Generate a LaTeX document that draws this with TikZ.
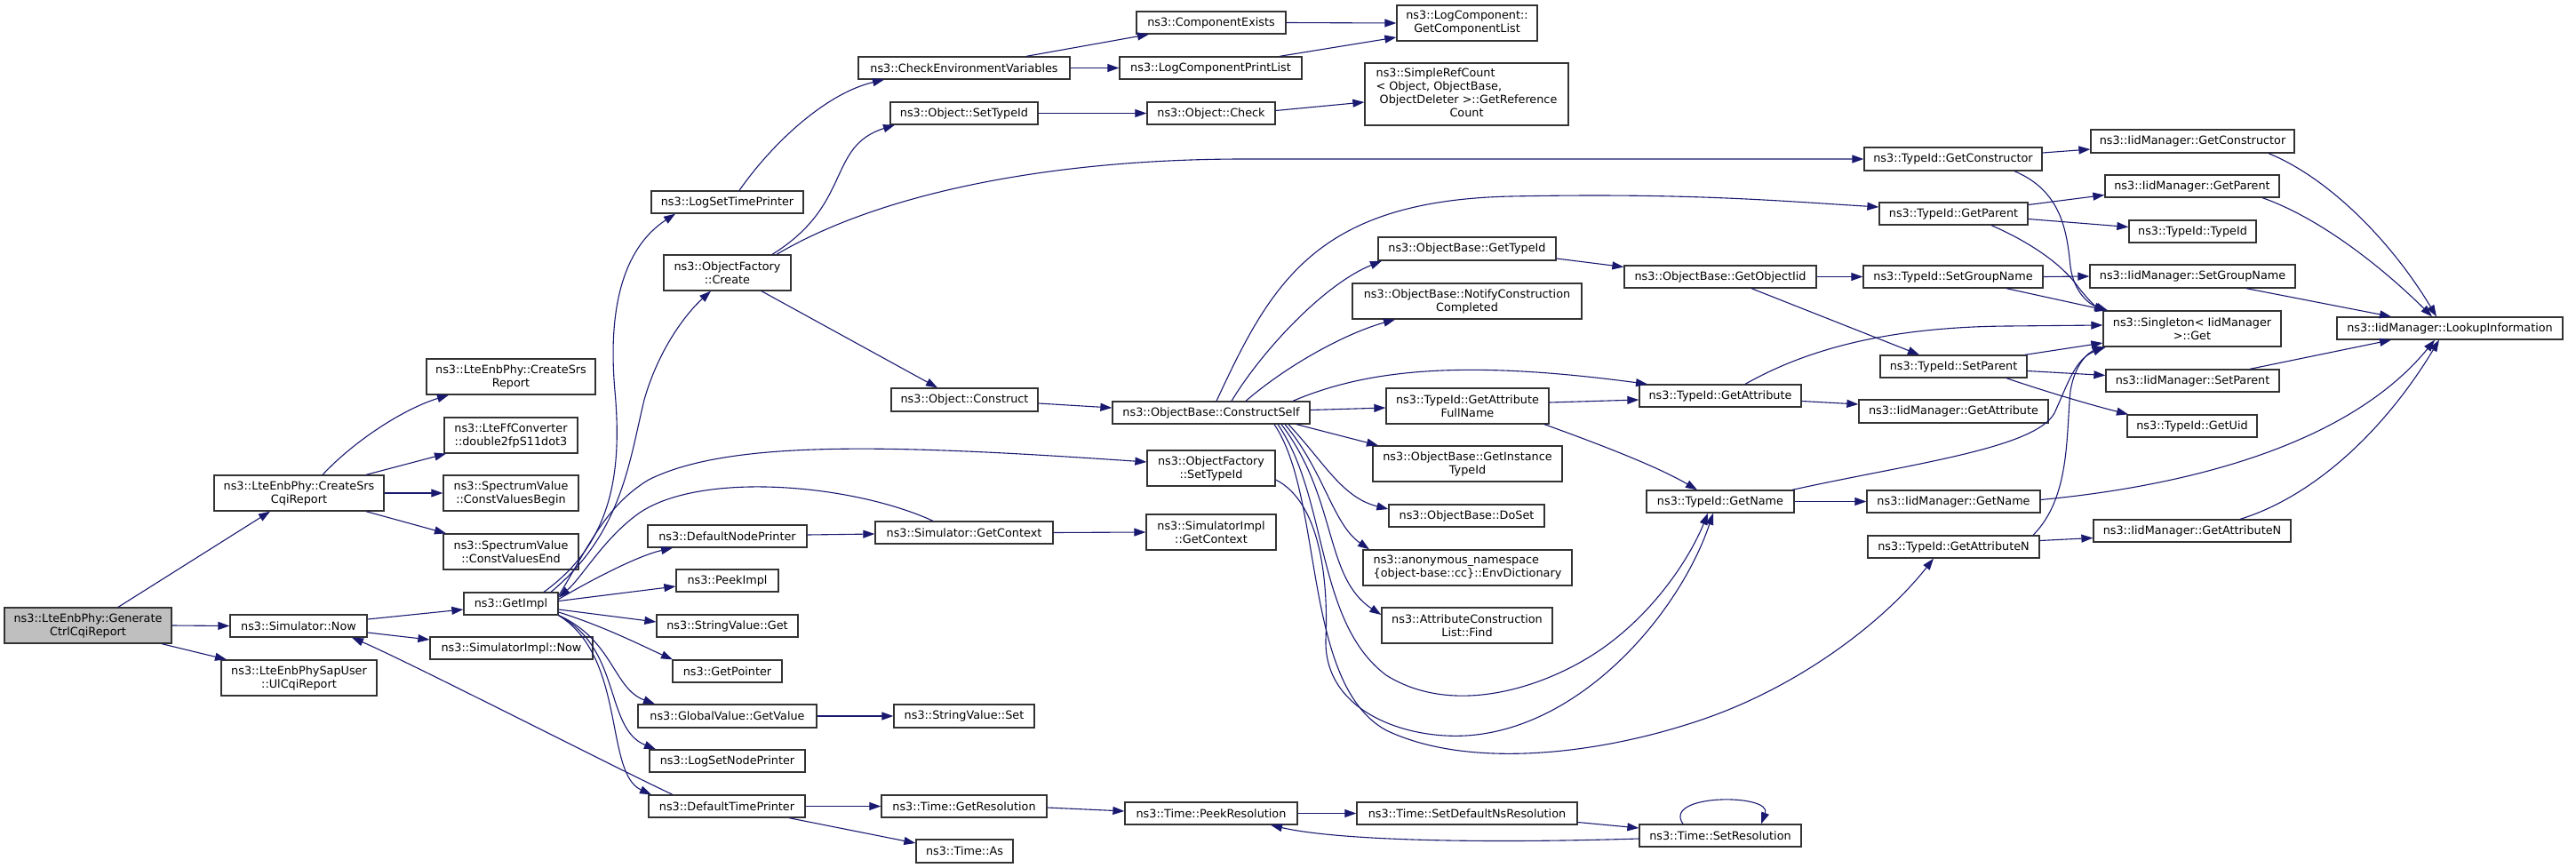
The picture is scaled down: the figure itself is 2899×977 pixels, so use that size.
\documentclass[tikz,border=0pt]{standalone}
\usepackage{fontspec}
\setmainfont{DejaVu Sans}
\usetikzlibrary{arrows.meta}
\definecolor{edgec}{HTML}{191970}
\definecolor{boxc}{HTML}{333333}
\definecolor{rootc}{HTML}{BFBFBF}
\newcommand{\mkbox}[7][]{\node[box,minimum width=#5pt,minimum height=#6pt,#1] (#2) at (#3,#4) {#7};}
\begin{document}
\begin{tikzpicture}[x=1pt,y=-1pt,
  box/.style={draw=boxc,line width=1.3pt,fill=white,inner sep=0pt,align=center,font=\fontsize{12.8}{15}\selectfont},
  e/.style={draw=edgec,line width=1.1pt,-{Triangle[length=13pt,width=9pt]}}]
\useasboundingbox (0,0) rectangle (2899,977);
% nodes
\mkbox[fill=rootc]{gen}{99}{704}{188}{40}{ns3::LteEnbPhy::Generate\\CtrlCqiReport}
\mkbox{csr}{336.5}{555}{191}{40}{ns3::LteEnbPhy::CreateSrs\\CqiReport}
\mkbox{srsr}{575}{424}{190}{40}{ns3::LteEnbPhy::CreateSrs\\Report}
\mkbox{ffc}{575}{490}{150}{40}{ns3::LteFfConverter\\::double2fpS11dot3}
\mkbox{cvb}{575}{555}{152}{40}{ns3::SpectrumValue\\::ConstValuesBegin}
\mkbox{cve}{575}{621}{152}{40}{ns3::SpectrumValue\\::ConstValuesEnd}
\mkbox{snow}{336}{704.5}{154}{25}{ns3::Simulator::Now}
\mkbox{sap}{336.5}{763}{175}{40}{ns3::LteEnbPhySapUser\\::UlCqiReport}
\mkbox{getimpl}{575}{679.5}{106}{25}{ns3::GetImpl}
\mkbox{simplnow}{575.5}{729.5}{183}{25}{ns3::SimulatorImpl::Now}
\mkbox{lstp}{818.5}{227.5}{171}{25}{ns3::LogSetTimePrinter}
\mkbox{ofc}{818.5}{307}{143}{40}{ns3::ObjectFactory\\::Create}
\mkbox{cev}{1085}{76.5}{238}{25}{ns3::CheckEnvironmentVariables}
\mkbox{cex}{1363}{25.5}{168}{25}{ns3::ComponentExists}
\mkbox{lcpl}{1362.5}{76.5}{205}{25}{ns3::LogComponentPrintList}
\mkbox{lcgcl}{1651}{26}{158}{40}{ns3::LogComponent::\\GetComponentList}
\mkbox{ost}{1085}{127.5}{166}{25}{ns3::Object::SetTypeId}
\mkbox{ochk}{1363}{127.5}{144}{25}{ns3::Object::Check}
\mkbox{src}{1650.5}{106}{229}{70}{\begin{tabular}{@{}l@{}}ns3::SimpleRefCount\\< Object, ObjectBase,\\\ ObjectDeleter >::GetReference\\\multicolumn{1}{@{}c@{}}{Count}\end{tabular}}
\mkbox{ocons}{1085.5}{450}{165}{26}{ns3::Object::Construct}
\mkbox{cself}{1363}{464.5}{222}{25}{ns3::ObjectBase::ConstructSelf}
\mkbox{ofst}{1363}{527}{144}{40}{ns3::ObjectFactory\\::SetTypeId}
\mkbox{sgc}{1085}{599.5}{200}{25}{ns3::Simulator::GetContext}
\mkbox{sigc}{1363}{599}{146}{40}{ns3::SimulatorImpl\\::GetContext}
\mkbox{dnp}{818.5}{603.5}{179}{25}{ns3::DefaultNodePrinter}
\mkbox{peek}{818.5}{653.5}{115}{25}{ns3::PeekImpl}
\mkbox{svget}{818.5}{704.5}{159}{25}{ns3::StringValue::Get}
\mkbox{gptr}{818.5}{755.5}{123}{25}{ns3::GetPointer}
\mkbox{gvgv}{818.5}{806}{201}{26}{ns3::GlobalValue::GetValue}
\mkbox{svset}{1085}{806}{158}{26}{ns3::StringValue::Set}
\mkbox{lsnp}{818.5}{856.5}{175}{25}{ns3::LogSetNodePrinter}
\mkbox{dtp}{818}{907.5}{176}{25}{ns3::DefaultTimePrinter}
\mkbox{tgr}{1085}{907.5}{186}{25}{ns3::Time::GetResolution}
\mkbox{tpr}{1363}{915.5}{194}{25}{ns3::Time::PeekResolution}
\mkbox{tas}{1085.5}{958}{109}{26}{ns3::Time::As}
\mkbox{tsdn}{1651}{915.5}{248}{25}{ns3::Time::SetDefaultNsResolution}
\mkbox{tsr}{1936}{940.5}{182}{25}{ns3::Time::SetResolution}
\mkbox{tgc}{2198}{179}{200}{26}{ns3::TypeId::GetConstructor}
\mkbox{tgp}{2198.5}{240.5}{167}{25}{ns3::TypeId::GetParent}
\mkbox{obgt}{1651}{280}{200}{26}{ns3::ObjectBase::GetTypeId}
\mkbox{obgo}{1936}{311.5}{216}{25}{ns3::ObjectBase::GetObjectIid}
\mkbox{tsgn}{2198}{311.5}{202}{25}{ns3::TypeId::SetGroupName}
\mkbox{ncc}{1651}{339}{258}{40}{ns3::ObjectBase::NotifyConstruction\\Completed}
\mkbox{tgafn}{1651.5}{457}{183}{40}{ns3::TypeId::GetAttribute\\FullName}
\mkbox{tga}{1936}{445.5}{182}{25}{ns3::TypeId::GetAttribute}
\mkbox{imga}{2198.5}{463}{213}{26}{ns3::IidManager::GetAttribute}
\mkbox{tsp}{2198.5}{412.5}{165}{25}{ns3::TypeId::SetParent}
\mkbox{obgit}{1651.5}{522}{213}{40}{ns3::ObjectBase::GetInstance\\TypeId}
\mkbox{doset}{1650.5}{580.5}{175}{25}{ns3::ObjectBase::DoSet}
\mkbox{tgn}{1936}{564.5}{166}{25}{ns3::TypeId::GetName}
\mkbox{imgn}{2198.5}{564.5}{195}{25}{ns3::IidManager::GetName}
\mkbox{tgan}{2198.5}{615.5}{193}{25}{ns3::TypeId::GetAttributeN}
\mkbox[align=left]{anon}{1651.5}{639}{235}{40}{ns3::anonymous\_namespace\\\{object-base::cc\}::EnvDictionary}
\mkbox{acl}{1651}{704}{192}{40}{ns3::AttributeConstruction\\List::Find}
\mkbox{imgc}{2467.5}{159}{229}{26}{ns3::IidManager::GetConstructor}
\mkbox{imgp}{2467}{209.5}{196}{25}{ns3::IidManager::GetParent}
\mkbox{ttid}{2467.5}{260.5}{143}{25}{ns3::TypeId::TypeId}
\mkbox{imsgn}{2467.5}{311}{231}{26}{ns3::IidManager::SetGroupName}
\mkbox{sing}{2467}{370}{200}{40}{ns3::Singleton< IidManager\\ >::Get}
\mkbox{lookup}{2757}{369.5}{254}{25}{ns3::IidManager::LookupInformation}
\mkbox{imsp}{2467.5}{428.5}{195}{25}{ns3::IidManager::SetParent}
\mkbox{tuid}{2467}{479.5}{146}{25}{ns3::TypeId::GetUid}
\mkbox{imgan}{2467}{597.5}{222}{25}{ns3::IidManager::GetAttributeN}
% edges
\draw[e] ([xshift=34pt]gen.north) -- ([xshift=-32.5pt]csr.south);
\draw[e] (gen.east) -- (snow.west);
\draw[e] ([xshift=83pt]gen.south) -- ([xshift=-81.5pt]sap.north);
\draw[e] ([xshift=26.5pt]csr.north) .. controls (400,495) and (455,460) .. ([xshift=-70pt]srsr.south);
\draw[e] ([xshift=75.5pt]csr.north) -- ([xshift=-73pt]ffc.south);
\draw[e] (csr.east) -- (cvb.west);
\draw[e] ([xshift=75.5pt]csr.south) -- ([xshift=-73pt]cve.north);
\draw[e] ([yshift=7.5pt]snow.east) -- ([yshift=-6.5pt]getimpl.west);
\draw[e] ([yshift=-7.5pt]snow.east) -- ([yshift=9.5pt]simplnow.west);
\draw[e] ([xshift=-61pt]dtp.north) .. controls (700,868) and (460,745) .. ([xshift=60pt]snow.south);
\draw[e] ([xshift=37pt]getimpl.north) .. controls (690,610) and (700,530) .. (692,440) .. controls (684,350) and (700,280) .. ([xshift=-58.5pt]lstp.south);
\draw[e] ([xshift=45pt]getimpl.north) .. controls (700,600) and (708,520) .. (725,450) .. controls (742,390) and (775,350) .. ([xshift=-18.5pt]ofc.south);
\draw[e] ([yshift=9pt]getimpl.east) .. controls (660,620) and (680,570) .. (730,540) .. controls (820,495) and (1000,500) .. ([yshift=7pt]ofst.west);
\draw[e] ([yshift=5pt]getimpl.east) .. controls (670,650) and (720,625) .. ([xshift=-61.5pt]dnp.south);
\draw[e] ([xshift=-35pt]sgc.north) .. controls (960,545) and (790,530) .. (720,577) .. controls (680,605) and (655,650) .. ([yshift=7pt]getimpl.east);
\draw[e] ([yshift=3pt]getimpl.east) -- ([yshift=-6.5pt]peek.west);
\draw[e] ([yshift=-6.5pt]getimpl.east) -- ([yshift=4.5pt]svget.west);
\draw[e] ([yshift=-9.5pt]getimpl.east) .. controls (680,705) and (725,728) .. ([xshift=-61.5pt]gptr.north);
\draw[e] (getimpl.south east) .. controls (690,720) and (690,775) .. ([xshift=-81.5pt]gvgv.north);
\draw[e] (getimpl.south east) .. controls (700,730) and (680,820) .. ([xshift=-80.5pt]lsnp.north);
\draw[e] (getimpl.south east) .. controls (705,740) and (680,870) .. ([xshift=-85pt]dtp.north);
\draw[e] ([xshift=50.5pt]ofc.north) .. controls (960,230) and (930,165) .. ([xshift=-78pt]ost.south);
\draw[e] ([xshift=55.5pt]ofc.north) .. controls (1000,212) and (1200,179) .. (1400,179) -- (tgc.west);
\draw[e] ([xshift=38.5pt]ofc.south) -- ([xshift=-30.5pt]ocons.north);
\draw[e] ([xshift=13.5pt]lstp.north) .. controls (870,160) and (930,105) .. ([xshift=-90pt]cev.south);
\draw[e] ([xshift=70pt]cev.north) -- ([xshift=-70pt]cex.south);
\draw[e] (cev.east) -- (lcpl.west);
\draw[e] (cex.east) -- (lcgcl.west);
\draw[e] ([xshift=77.5pt]lcpl.north) -- ([yshift=-16pt]lcgcl.west);
\draw[e] (ost.east) -- (ochk.west);
\draw[e] ([yshift=3pt]ochk.east) -- ([yshift=-9pt]src.west);
\draw[e] ([yshift=-4pt]ocons.east) -- ([yshift=5.5pt]cself.west);
\draw[e] ([xshift=6pt]cself.north) .. controls (1430,320) and (1480,226) .. (1700,221) .. controls (1900,217) and (2000,226) .. ([yshift=7.5pt]tgp.west);
\draw[e] ([xshift=23pt]cself.north) .. controls (1420,395) and (1490,320) .. ([xshift=-96pt]obgt.south);
\draw[e] ([xshift=39pt]cself.north) .. controls (1450,410) and (1515,375) .. ([xshift=-81pt]ncc.south);
\draw[e] ([xshift=92pt]cself.north) .. controls (1540,415) and (1650,405) .. ([xshift=-82pt]tga.north);
\draw[e] ([yshift=3pt]cself.east) -- ([yshift=-2pt]tgafn.west);
\draw[e] ([xshift=96pt]cself.south) -- ([xshift=-100.5pt]obgit.north);
\draw[e] ([xshift=87pt]cself.south) .. controls (1490,520) and (1510,560) .. ([yshift=7.5pt]doset.west);
\draw[e] ([xshift=83pt]cself.south) .. controls (1490,530) and (1500,590) .. ([xshift=-110.5pt]anon.north);
\draw[e] ([xshift=79pt]cself.south) .. controls (1505,560) and (1490,650) .. ([yshift=12pt]acl.west);
\draw[e] ([xshift=75pt]cself.south) .. controls (1495,560) and (1480,700) .. (1560,760) .. controls (1640,810) and (1750,770) .. (1810,725) .. controls (1870,680) and (1905,620) .. ([xshift=-14pt]tgn.south);
\draw[e] ([yshift=-13pt]ofst.east) .. controls (1485,565) and (1495,650) .. (1492,720) .. controls (1490,800) and (1580,832) .. (1650,828) .. controls (1780,820) and (1890,690) .. ([xshift=-8pt]tgn.south);
\draw[e] ([xshift=71pt]cself.south) .. controls (1490,560) and (1465,770) .. (1560,822) .. controls (1650,865) and (1790,850) .. (1900,815) .. controls (2020,778) and (2120,700) .. ([xshift=-22.5pt]tgan.south);
\draw[e] ([yshift=4pt]tgafn.east) -- ([yshift=-4.5pt]tga.west);
\draw[e] ([xshift=86.5pt]tgafn.south) .. controls (1800,500) and (1865,525) .. ([xshift=-26pt]tgn.north);
\draw[e] ([xshift=28pt]tga.north) .. controls (2030,395) and (2120,368) .. (2260,367) -- ([yshift=4pt]sing.west);
\draw[e] ([yshift=-6pt]tga.east) -- ([yshift=8pt]imga.west);
\draw[e] ([xshift=81pt]tgn.north) .. controls (2150,522) and (2290,505) .. (2312,465) .. controls (2328,430) and (2335,405) .. ([xshift=-99pt]sing.south);
\draw[e] (tgn.east) -- (imgn.west);
\draw[e] ([yshift=10pt]tgp.east) -- ([yshift=-10pt]imgp.west);
\draw[e] ([yshift=-6pt]tgp.east) -- ([yshift=5pt]ttid.west);
\draw[e] ([xshift=42.5pt]tgp.south) .. controls (2290,275) and (2322,300) .. (2338,322) .. controls (2350,338) and (2360,346) .. ([xshift=-97pt]sing.north);
\draw[e] ([yshift=7pt]tgc.east) -- ([yshift=-9pt]imgc.west);
\draw[e] ([xshift=69pt]tgc.south) .. controls (2320,215) and (2326,260) .. (2330,300) .. controls (2334,330) and (2352,343) .. ([xshift=-95pt]sing.north);
\draw[e] ([yshift=-11pt]obgt.east) -- ([yshift=11pt]obgo.west);
\draw[e] (obgo.east) -- (tsgn.west);
\draw[e] ([xshift=35pt]obgo.south) -- ([xshift=-38.5pt]tsp.north);
\draw[e] (tsgn.east) -- (imsgn.west);
\draw[e] ([xshift=60pt]tsgn.south) -- ([xshift=-96pt]sing.north);
\draw[e] ([xshift=80.5pt]tsp.north) -- ([yshift=-16pt]sing.west);
\draw[e] ([yshift=-5pt]tsp.east) -- ([yshift=6pt]imsp.west);
\draw[e] ([xshift=59.5pt]tsp.south) .. controls (2300,440) and (2350,455) .. ([xshift=-72pt]tuid.north);
\draw[e] ([yshift=7pt]tgan.east) -- ([yshift=-8pt]imgan.west);
\draw[e] ([xshift=89.5pt]tgan.north) .. controls (2330,560) and (2325,490) .. (2330,440) .. controls (2335,410) and (2350,396) .. ([xshift=-97pt]sing.south);
\draw[e] ([xshift=85.5pt]imgc.south) .. controls (2620,200) and (2690,270) .. ([xshift=-15pt]lookup.north);
\draw[e] ([xshift=79pt]imgp.south) .. controls (2610,245) and (2680,300) .. ([xshift=-20pt]lookup.north);
\draw[e] ([xshift=60.5pt]imsgn.south) -- ([xshift=-66pt]lookup.north);
\draw[e] ([xshift=64.5pt]imsp.north) -- ([xshift=-66pt]lookup.south);
\draw[e] ([yshift=2pt]imgn.east) .. controls (2450,548) and (2640,505) .. ([xshift=-17pt]lookup.south);
\draw[e] ([xshift=54pt]imgan.north) .. controls (2600,560) and (2680,490) .. ([xshift=-12pt]lookup.south);
\draw[e] (dtp.east) -- (tgr.west);
\draw[e] ([xshift=70pt]dtp.south) -- ([yshift=9pt]tas.west);
\draw[e] ([yshift=-1.5pt]tgr.east) -- ([yshift=2.5pt]tpr.west);
\draw[e] (tpr.east) -- (tsdn.west);
\draw[e] ([yshift=-10pt]tsdn.east) -- ([yshift=8.5pt]tsr.west);
\draw[e] ([yshift=-3.5pt]tsr.west) .. controls (1650,950) and (1500,945) .. ([xshift=67pt]tpr.south);
\draw[e] ([xshift=-42pt]tsr.north) .. controls (1870,893) and (1995,893) .. ([xshift=46pt]tsr.north);
\draw[e] (gvgv.east) -- (svset.west);
\draw[e] ([yshift=1.5pt]dnp.east) -- ([yshift=-1.5pt]sgc.west);
\draw[e] (sgc.east) -- (sigc.west);
\end{tikzpicture}
\end{document}
